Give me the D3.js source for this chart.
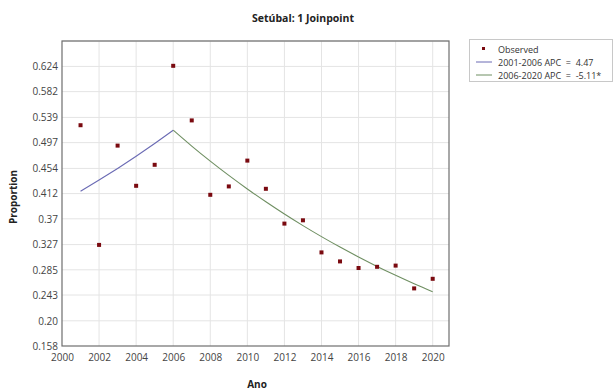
<!DOCTYPE html>
<html><head><meta charset="utf-8">
<script src="https://cdn.jsdelivr.net/npm/d3@7"></script>
<style>body{margin:0;background:#fff}svg{display:block}text{font-family:"Open Sans","Noto Sans",sans-serif}</style>
</head><body><div id="c"></div>
<script>
const years = [2001,2002,2003,2004,2005,2006,2007,2008,2009,2010,2011,2012,2013,2014,2015,2016,2017,2018,2019,2020];
const observed = [0.526,0.3265,0.492,0.425,0.460,0.625,0.534,0.410,0.424,0.467,0.420,0.362,0.3675,0.314,0.299,0.288,0.290,0.292,0.254,0.270];
const seg1Years = [2001,2002,2003,2004,2005,2006];
const seg1Values = [0.416,0.4346,0.4540,0.4743,0.4955,0.5177];
const seg2Years = [2006,2007,2008,2009,2010,2011,2012,2013,2014,2015,2016,2017,2018,2019,2020];
const seg2Values = [0.5177,0.4912,0.4661,0.4423,0.4197,0.3983,0.3779,0.3586,0.3403,0.3229,0.3064,0.2907,0.2759,0.2618,0.2484];
const yTickValues = [0.158,0.20,0.243,0.285,0.327,0.37,0.412,0.454,0.497,0.539,0.582,0.624];
const yTickLabels = ["0.158","0.20","0.243","0.285","0.327","0.37","0.412","0.454","0.497","0.539","0.582","0.624"];
const xTickValues = [2000,2002,2004,2006,2008,2010,2012,2014,2016,2018,2020];
const legendLabels = ["Observed","2001-2006 APC \u00a0=\u00a0 4.47","2006-2020 APC \u00a0=\u00a0 -5.11*"];

const W=616,H=390;
const L=62,R=449,T=41,B=346;
const svg=d3.select("#c").append("svg").attr("width",W).attr("height",H);
const step=(0.624-0.158)/11;
const x=d3.scaleLinear().domain([2000,2020.88]).range([L,R]);
const y=d3.scaleLinear().domain([0.158,0.158+12*step]).range([B,T]);

// grid
const g=svg.append("g");
g.selectAll("line.v").data(xTickValues.slice(1)).join("line")
 .attr("x1",d=>x(d)).attr("x2",d=>x(d)).attr("y1",T).attr("y2",B)
 .attr("stroke","#e4e4e4").attr("stroke-width",1);
g.selectAll("line.h").data(yTickValues.slice(1).concat([0.158+12*step])).join("line")
 .attr("x1",L).attr("x2",R).attr("y1",d=>y(d)).attr("y2",d=>y(d))
 .attr("stroke","#e4e4e4").attr("stroke-width",1);

// axes
const xAxis=d3.axisBottom(x).tickValues(xTickValues).tickFormat(d3.format("d")).tickSize(0).tickPadding(8);
const yAxis=d3.axisLeft(y).tickValues(yTickValues).tickFormat((d,i)=>yTickLabels[i]).tickSize(0).tickPadding(4);
const xa=svg.append("g").attr("transform",`translate(0,${B})`).call(xAxis);
const ya=svg.append("g").attr("transform",`translate(${L},0)`).call(yAxis);
[xa,ya].forEach(a=>{a.select(".domain").remove();a.selectAll("text").attr("fill","#444").style("font-size","10px").style("font-family","'Open Sans','Noto Sans',sans-serif");});

// frame
svg.append("rect").attr("x",L).attr("y",T).attr("width",R-L).attr("height",B-T)
 .attr("fill","none").attr("stroke","#6e6e6e").attr("stroke-width",1.2);

// lines
const line=d3.line().x(d=>x(d[0])).y(d=>y(d[1]));
svg.append("path").datum(seg1Years.map((d,i)=>[d,seg1Values[i]])).attr("d",line)
 .attr("fill","none").attr("stroke","#6a6ab4").attr("stroke-width",1.1);
svg.append("path").datum(seg2Years.map((d,i)=>[d,seg2Values[i]])).attr("d",d3.line().x(d=>x(d[0])).y(d=>y(d[1])).curve(d3.curveMonotoneX))
 .attr("fill","none").attr("stroke","#6f8f62").attr("stroke-width",1.1);

// points
svg.selectAll("rect.pt").data(years.map((d,i)=>[d,observed[i]])).join("rect")
 .attr("x",d=>x(d[0])-2).attr("y",d=>y(d[1])-2).attr("width",4).attr("height",4)
 .attr("fill","#7a0a10");

// title & labels
svg.append("text").attr("x",303).attr("y",22).attr("text-anchor","middle")
 .style("font-size","10.5px").style("font-weight","bold").attr("fill","#222").text("Setúbal: 1 Joinpoint");
svg.append("text").attr("transform","translate(17,197) rotate(-90)").attr("text-anchor","middle")
 .style("font-size","10px").style("font-weight","bold").attr("fill","#222").text("Proportion");
svg.append("text").attr("x",257).attr("y",388).attr("text-anchor","middle")
 .style("font-size","10px").style("font-weight","bold").attr("fill","#222").text("Ano");

// legend
const lg=svg.append("g");
lg.append("rect").attr("x",469.5).attr("y",39.5).attr("width",143).attr("height",42)
 .attr("fill","#fff").attr("stroke","#c8c8c8");
lg.append("rect").attr("x",482).attr("y",47).attr("width",3).attr("height",3).attr("fill","#7a0a10");
lg.append("line").attr("x1",476).attr("x2",492).attr("y1",62).attr("y2",62).attr("stroke","#6a6ab4");
lg.append("line").attr("x1",476).attr("x2",492).attr("y1",75).attr("y2",75).attr("stroke","#6f8f62");
lg.selectAll("text").data(legendLabels).join("text")
 .attr("x",498).attr("y",(d,i)=>53+i*12.8).style("font-size","9px").attr("fill","#333")
 .text(d=>d);
</script></body></html>
